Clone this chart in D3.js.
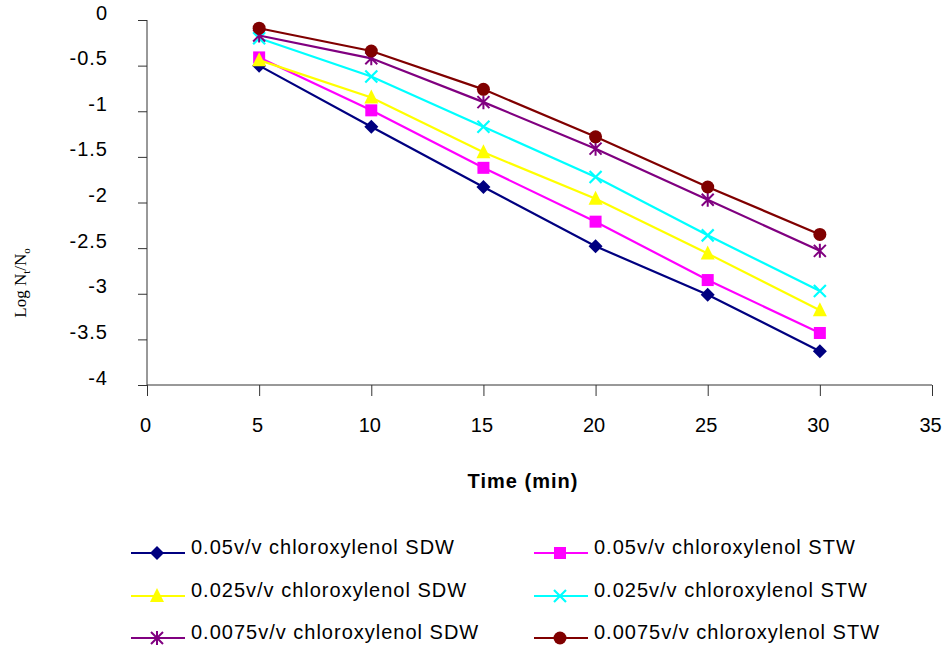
<!DOCTYPE html>
<html><head><meta charset="utf-8">
<script src="https://cdn.jsdelivr.net/npm/d3@7"></script>
<style>body{margin:0;background:#fff}svg{display:block}</style>
</head><body>
<svg id="c" width="943" height="649"></svg>
<script>
const times = [5, 10, 15, 20, 25, 30];
const seriesNames = [
  "0.05v/v chloroxylenol SDW",
  "0.05v/v chloroxylenol STW",
  "0.025v/v chloroxylenol SDW",
  "0.025v/v chloroxylenol STW",
  "0.0075v/v chloroxylenol SDW",
  "0.0075v/v chloroxylenol STW"
];
const sdw005  = [-0.50, -1.17, -1.83, -2.48, -3.01, -3.63];
const stw005  = [-0.41, -0.99, -1.62, -2.21, -2.85, -3.43];
const sdw0025 = [-0.44, -0.85, -1.45, -1.96, -2.56, -3.18];
const stw0025 = [-0.20, -0.62, -1.17, -1.72, -2.36, -2.97];
const sdw00075 = [-0.17, -0.42, -0.90, -1.41, -1.97, -2.53];
const stw00075 = [-0.09, -0.34, -0.76, -1.28, -1.83, -2.35];
const xTicks = [0, 5, 10, 15, 20, 25, 30, 35];
const yTicks = [0, -0.5, -1, -1.5, -2, -2.5, -3, -3.5, -4];

const seriesValues = [sdw005, stw005, sdw0025, stw0025, sdw00075, stw00075];
const colors = ["#000080", "#FF00FF", "#FFFF00", "#00FFFF", "#800080", "#800000"];
const markers = ["diamond", "square", "triangle", "x", "star", "circle"];

const svg = d3.select("#c");
const x = d3.scaleLinear().domain([0, 35]).range([147, 932]);
const y = d3.scaleLinear().domain([-4, 0]).range([385, 20]);
const axisColor = "#333";
const font = "'Liberation Sans', Arial, sans-serif";

// y axis
const ya = svg.append("g").attr("transform", "translate(147,0)")
  .call(d3.axisLeft(y).tickValues(yTicks).tickSize(9).tickPadding(30)
    .tickFormat(d => d === 0 ? "0" : String(d)));
ya.select(".domain").attr("stroke", axisColor).attr("d", "M0,20V385");
ya.selectAll(".tick line").attr("stroke", axisColor);
ya.selectAll(".tick text").attr("font-family", font).attr("font-size", 20).attr("letter-spacing", 1)
  .attr("fill", "#000").attr("dy", "-0.05em");

// x axis
const xa = svg.append("g").attr("transform", "translate(0,385)")
  .call(d3.axisBottom(x).tickValues(xTicks).tickSize(11).tickPadding(22));
xa.select(".domain").attr("stroke", axisColor).attr("d", "M147,0H932");
xa.selectAll(".tick line").attr("stroke", axisColor);
xa.selectAll(".tick text").attr("font-family", font).attr("font-size", 20).attr("dx", -2).attr("fill", "#000");

// axis titles
svg.append("text").attr("x", 523).attr("y", 488).attr("text-anchor", "middle")
  .attr("font-family", font).attr("font-size", 20).attr("letter-spacing", 1)
  .attr("font-weight", "bold").text("Time (min)");

const yl = svg.append("text").attr("transform", "translate(26,283) rotate(-90)")
  .attr("text-anchor", "middle").attr("font-family", "'Liberation Serif', 'Times New Roman', serif")
  .attr("font-size", 17);
yl.append("tspan").text("Log N");
yl.append("tspan").attr("font-size", 11).attr("dy", 4).text("t");
yl.append("tspan").attr("dy", -4).text("/N");
yl.append("tspan").attr("font-size", 11).attr("dy", 4).text("o");

function drawMarker(g, type, cx, cy, color) {
  if (type === "diamond") {
    g.append("path").attr("d", `M${cx},${cy-7}L${cx+7},${cy}L${cx},${cy+7}L${cx-7},${cy}Z`).attr("fill", color);
  } else if (type === "square") {
    g.append("rect").attr("x", cx-6).attr("y", cy-6).attr("width", 12).attr("height", 12).attr("fill", color);
  } else if (type === "triangle") {
    g.append("path").attr("d", `M${cx},${cy-8}L${cx+7},${cy+6}L${cx-7},${cy+6}Z`).attr("fill", color);
  } else if (type === "x") {
    g.append("path").attr("d", `M${cx-6},${cy-6}L${cx+6},${cy+6}M${cx-6},${cy+6}L${cx+6},${cy-6}`)
      .attr("stroke", color).attr("stroke-width", 2.2).attr("fill", "none");
  } else if (type === "star") {
    g.append("path").attr("d", `M${cx-6},${cy-6}L${cx+6},${cy+6}M${cx-6},${cy+6}L${cx+6},${cy-6}M${cx},${cy-7}L${cx},${cy+7}`)
      .attr("stroke", color).attr("stroke-width", 2).attr("fill", "none");
  } else if (type === "circle") {
    g.append("circle").attr("cx", cx).attr("cy", cy).attr("r", 6.5).attr("fill", color);
  }
}

const line = d3.line().x(d => x(d[0])).y(d => y(d[1]));
seriesValues.forEach((vals, i) => {
  const g = svg.append("g");
  const pts = times.map((t, j) => [t, vals[j]]);
  g.append("path").attr("d", line(pts)).attr("fill", "none").attr("stroke", colors[i]).attr("stroke-width", 2.2);
  pts.forEach(p => drawMarker(g, markers[i], x(p[0]), y(p[1]), colors[i]));
});

// legend
const legendCols = [131, 534];
const legendRows = [553, 596, 638];
seriesNames.forEach((name, k) => {
  const col = k % 2, row = Math.floor(k / 2);
  const lx = legendCols[col], ly = legendRows[row];
  const g = svg.append("g");
  g.append("line").attr("x1", lx).attr("x2", lx + 54).attr("y1", ly).attr("y2", ly)
    .attr("stroke", colors[k]).attr("stroke-width", 2.2);
  drawMarker(g, markers[k], lx + 26, ly, colors[k]);
  g.append("text").attr("x", lx + 60).attr("y", ly + 1).attr("font-family", font).attr("font-size", 20)
    .attr("letter-spacing", 1).attr("fill", "#000").text(name);
});
</script>
</body></html>
